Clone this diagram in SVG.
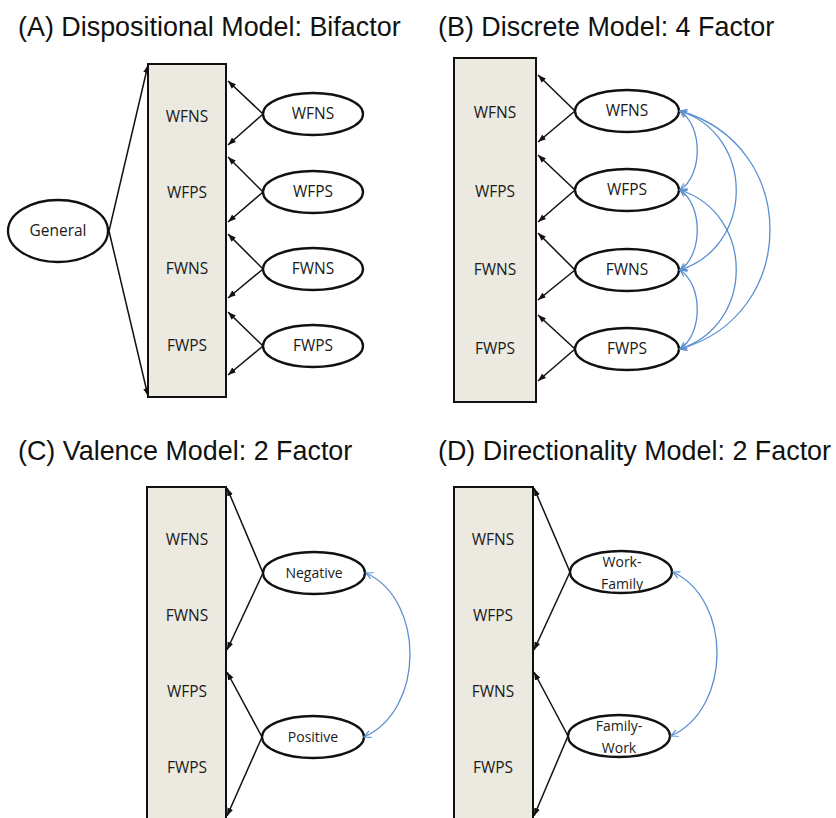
<svg xmlns="http://www.w3.org/2000/svg" width="836" height="818" viewBox="0 0 836 818">
<style>
.title{font-family:"Liberation Sans",Arial,sans-serif;font-size:26.9px;fill:#111}
.box{fill:#ebe9e0;stroke:#111;stroke-width:2}
.lbl{font-family:"Open Sans","Liberation Sans",sans-serif;font-size:15.5px;fill:#1a1a1a;text-anchor:middle}
.sm{font-size:14px}
.ell{fill:#fff;stroke:#111;stroke-width:2.3}
.ln{stroke:#111;stroke-width:1.5;fill:none;marker-end:url(#ah)}
.cv{stroke:#5b8fd0;stroke-width:1.3;fill:none;marker-start:url(#bh);marker-end:url(#bh)}
</style>
<defs>
<marker id="ah" markerUnits="userSpaceOnUse" markerWidth="10" markerHeight="10" refX="8" refY="4" orient="auto">
<path d="M0,1 L8,4 L0,7 Z" fill="#111"/>
</marker>
<marker id="bh" markerUnits="userSpaceOnUse" markerWidth="10" markerHeight="10" refX="7" refY="4" orient="auto-start-reverse">
<path d="M0,0.5 L7,4 L0,7.5" fill="none" stroke="#5b8fd0" stroke-width="1.2"/>
</marker>
</defs>

<rect width="836" height="818" fill="#fff"/>

<text class="title" x="18" y="36">(A) Dispositional Model: Bifactor</text>
<text class="title" x="438" y="36">(B) Discrete Model: 4 Factor</text>
<text class="title" x="18" y="460">(C) Valence Model: 2 Factor</text>
<text class="title" x="438" y="460">(D) Directionality Model: 2 Factor</text>

<!-- Panel A -->
<g id="A-indicators">
<rect class="box" x="148" y="64" width="78" height="333"/>
<text class="lbl" x="187" y="122">WFNS</text>
<text class="lbl" x="187" y="198">WFPS</text>
<text class="lbl" x="187" y="274">FWNS</text>
<text class="lbl" x="187" y="351">FWPS</text>
</g>
<g id="A-general"><ellipse class="ell" cx="58" cy="231" rx="50" ry="31"/><text class="lbl" x="58" y="236">General</text></g>
<g id="A-wfns"><ellipse class="ell" cx="313" cy="114" rx="50" ry="21"/><text class="lbl" x="313" y="119">WFNS</text></g>
<g id="A-wfps"><ellipse class="ell" cx="313" cy="192" rx="50" ry="21"/><text class="lbl" x="313" y="197">WFPS</text></g>
<g id="A-fwns"><ellipse class="ell" cx="313" cy="269" rx="50" ry="21"/><text class="lbl" x="313" y="274">FWNS</text></g>
<g id="A-fwps"><ellipse class="ell" cx="313" cy="346" rx="50" ry="21"/><text class="lbl" x="313" y="351">FWPS</text></g>

<!-- Panel B -->
<g id="B-indicators">
<rect class="box" x="454" y="58" width="82" height="344"/>
<text class="lbl" x="495" y="118">WFNS</text>
<text class="lbl" x="495" y="197">WFPS</text>
<text class="lbl" x="495" y="275">FWNS</text>
<text class="lbl" x="495" y="354">FWPS</text>
</g>
<g id="B-wfns"><ellipse class="ell" cx="627" cy="111" rx="52" ry="21"/><text class="lbl" x="627" y="116">WFNS</text></g>
<g id="B-wfps"><ellipse class="ell" cx="627" cy="190" rx="52" ry="21"/><text class="lbl" x="627" y="195">WFPS</text></g>
<g id="B-fwns"><ellipse class="ell" cx="627" cy="270" rx="52" ry="21"/><text class="lbl" x="627" y="275">FWNS</text></g>
<g id="B-fwps"><ellipse class="ell" cx="627" cy="349" rx="52" ry="21"/><text class="lbl" x="627" y="354">FWPS</text></g>

<!-- Panel C -->
<g id="C-indicators">
<rect class="box" x="147" y="487" width="79" height="345"/>
<text class="lbl" x="187" y="545">WFNS</text>
<text class="lbl" x="187" y="621">FWNS</text>
<text class="lbl" x="187" y="697">WFPS</text>
<text class="lbl" x="187" y="773">FWPS</text>
</g>
<g id="C-negative"><ellipse class="ell" cx="314" cy="573" rx="51" ry="21"/><text class="lbl sm" x="314" y="578">Negative</text></g>
<g id="C-positive"><ellipse class="ell" cx="313" cy="737" rx="51" ry="21"/><text class="lbl sm" x="313" y="742">Positive</text></g>

<!-- Panel D -->
<g id="D-indicators">
<rect class="box" x="454" y="487" width="79" height="345"/>
<text class="lbl" x="493" y="545">WFNS</text>
<text class="lbl" x="493" y="621">WFPS</text>
<text class="lbl" x="493" y="697">FWNS</text>
<text class="lbl" x="493" y="773">FWPS</text>
</g>
<g id="D-workfamily"><ellipse class="ell" cx="621" cy="572" rx="51" ry="21"/><text class="lbl sm" x="622" y="567">Work-</text><text class="lbl sm" x="622" y="589">Family</text></g>
<g id="D-familywork"><ellipse class="ell" cx="619" cy="736" rx="51" ry="21"/><text class="lbl sm" x="619" y="731">Family-</text><text class="lbl sm" x="619" y="753">Work</text></g>

<g id="connectors">
<!-- A -->
<line class="ln" x1="109" y1="231" x2="148" y2="65"/>
<line class="ln" x1="109" y1="231" x2="148" y2="396"/>
<line class="ln" x1="263" y1="114" x2="228" y2="81"/>
<line class="ln" x1="263" y1="114" x2="228" y2="145"/>
<line class="ln" x1="263" y1="192" x2="228" y2="157"/>
<line class="ln" x1="263" y1="192" x2="228" y2="222"/>
<line class="ln" x1="263" y1="269" x2="228" y2="234"/>
<line class="ln" x1="263" y1="269" x2="228" y2="298"/>
<line class="ln" x1="263" y1="346" x2="228" y2="312"/>
<line class="ln" x1="263" y1="346" x2="228" y2="375"/>
<!-- B -->
<line class="ln" x1="575" y1="111" x2="538" y2="75"/>
<line class="ln" x1="575" y1="111" x2="538" y2="142"/>
<line class="ln" x1="575" y1="190" x2="538" y2="155"/>
<line class="ln" x1="575" y1="190" x2="538" y2="222"/>
<line class="ln" x1="575" y1="270" x2="538" y2="233"/>
<line class="ln" x1="575" y1="270" x2="538" y2="300"/>
<line class="ln" x1="575" y1="349" x2="538" y2="315"/>
<line class="ln" x1="575" y1="349" x2="538" y2="381"/>
<path class="cv" d="M680,111 C703,126 703,175 680,190"/>
<path class="cv" d="M680,190 C703,205 703,255 680,270"/>
<path class="cv" d="M680,270 C703,285 703,334 680,349"/>
<path class="cv" d="M680,111 C755,135 755,246 680,270"/>
<path class="cv" d="M680,190 C755,214 755,325 680,349"/>
<path class="cv" d="M680,111 C800,145 800,315 680,349"/>
<!-- C -->
<line class="ln" x1="263" y1="573" x2="227" y2="488"/>
<line class="ln" x1="263" y1="573" x2="227" y2="650"/>
<line class="ln" x1="262" y1="737" x2="227" y2="672"/>
<line class="ln" x1="262" y1="737" x2="227" y2="816"/>
<path class="cv" d="M366,573 C425,600 425,710 364,737"/>
<!-- D -->
<line class="ln" x1="570" y1="572" x2="534" y2="488"/>
<line class="ln" x1="570" y1="572" x2="534" y2="650"/>
<line class="ln" x1="568" y1="736" x2="534" y2="672"/>
<line class="ln" x1="568" y1="736" x2="534" y2="816"/>
<path class="cv" d="M673,572 C732,600 732,708 671,736"/>
</g>
</svg>
